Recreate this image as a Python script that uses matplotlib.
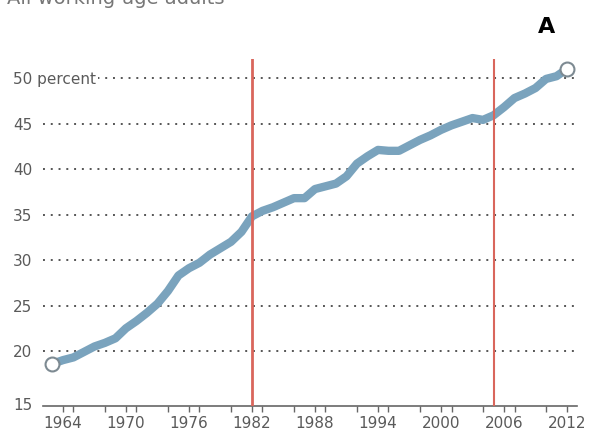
import matplotlib
matplotlib.use("Agg")
import matplotlib.pyplot as plt
from matplotlib.ticker import MultipleLocator

years = list(range(1963, 2013))
share = [18.6, 19.0, 19.3, 19.9, 20.5, 20.9, 21.4, 22.5, 23.3, 24.2,
         25.2, 26.6, 28.3, 29.1, 29.7, 30.6, 31.3, 32.0, 33.1, 34.8,
         35.4, 35.8, 36.3, 36.8, 36.8, 37.8, 38.1, 38.4, 39.2, 40.6,
         41.4, 42.1, 42.0, 42.0, 42.6, 43.2, 43.7, 44.3, 44.8, 45.2,
         45.6, 45.4, 45.9, 46.8, 47.8, 48.3, 48.9, 49.9, 50.2, 51.0]
marker_years = [1982, 2005]
ytick_vals = [15, 20, 25, 30, 35, 40, 45, 50]
ytick_labels = ["15", "20", "25", "30", "35", "40", "45", "50 percent"]
xtick_vals = [1964, 1970, 1976, 1982, 1988, 1994, 2000, 2006, 2012]
title = "All working-age adults"
panel = "A"

plt.rcParams['font.family'] = ['DejaVu Sans']

fig = plt.figure(figsize=(5.89, 4.34), dpi=100)
ax = fig.add_axes([43/589, 1-406/434, (577-43)/589, (406-59)/434])

ax.set_xlim(1962.1, 2012.95)
# axis baseline sits a little below the 20-50 grid spacing (broken baseline as in the original)
ax.set_ylim(13.96, 52.09)

for s in ["top", "right", "left"]:
    ax.spines[s].set_visible(False)
ax.spines["bottom"].set_color("#666666")
ax.spines["bottom"].set_linewidth(1.2)

ax.set_yticks(ytick_vals[1:])
ax.set_yticklabels(ytick_labels[1:])
ax.yaxis.grid(True, color="#555555", linestyle=(0, (1, 3)), linewidth=1.4)
ax.tick_params(axis="y", length=0, pad=21.6, labelsize=11, labelcolor="#5a5a5a")
for lab in ax.get_yticklabels():
    lab.set_horizontalalignment("left")
    lab.set_bbox(dict(facecolor="white", edgecolor="none", pad=1.5))

# baseline label
ax.text(-30/534, 0, ytick_labels[0], transform=ax.transAxes,
        ha="left", va="center", fontsize=11, color="#5a5a5a")

ax.set_xticks(xtick_vals)
ax.set_xticklabels([str(v) for v in xtick_vals])
ax.xaxis.set_minor_locator(MultipleLocator(3))
ax.tick_params(axis="x", which="both", length=4, width=1, color="#666666",
               direction="out", labelsize=11, labelcolor="#5a5a5a", pad=3)

for yr in marker_years:
    ax.axvline(yr, color="#d9665c", linewidth=2 if yr == marker_years[0] else 1.5,
               zorder=4)

ax.plot(years, share, color="#7aa3bd", linewidth=6, solid_capstyle="round",
        solid_joinstyle="round", zorder=3)
ax.plot([years[0], years[-1]], [share[0], share[-1]], linestyle="none",
        marker="o", markersize=10, markerfacecolor="white",
        markeredgecolor="#7d8a92", markeredgewidth=1.5, zorder=5)

fig.text(0.012, 1-4/434, title, ha="left", va="baseline", fontsize=14, color="#777777")
fig.text(547/589, 1-27/434, panel, ha="center", va="center", fontsize=16,
         fontweight="bold", color="black",
         family=["Liberation Sans Narrow", "DejaVu Sans"])

fig.savefig("out.png", dpi=100)
